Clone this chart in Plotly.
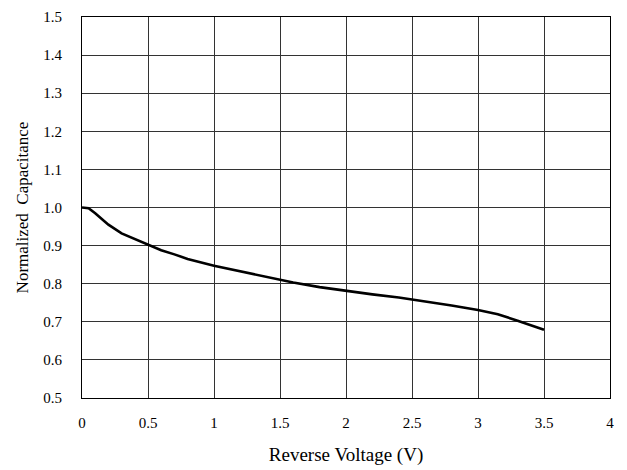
import plotly.graph_objects as go

voltage = [0, 0.05, 0.1, 0.2, 0.3, 0.4, 0.5, 0.6, 0.7, 0.8, 1.0, 1.2, 1.4, 1.6, 1.8, 2.0, 2.2, 2.4, 2.6, 2.8, 3.0, 3.15, 3.3, 3.5]
capacitance = [1.0, 0.998, 0.985, 0.955, 0.932, 0.917, 0.902, 0.888, 0.877, 0.865, 0.847, 0.832, 0.818, 0.803, 0.791, 0.781, 0.772, 0.764, 0.754, 0.743, 0.731, 0.72, 0.703, 0.679]

x_ticks = [0, 0.5, 1, 1.5, 2, 2.5, 3, 3.5, 4]
x_tick_text = ["0", "0.5", "1", "1.5", "2", "2.5", "3", "3.5", "4"]
y_ticks = [0.5, 0.6, 0.7, 0.8, 0.9, 1.0, 1.1, 1.2, 1.3, 1.4, 1.5]
y_tick_text = ["0.5", "0.6", "0.7", "0.8", "0.9", "1.0", "1.1", "1.2", "1.3", "1.4", "1.5"]

fig = go.Figure()
fig.add_trace(go.Scatter(x=voltage, y=capacitance, mode="lines",
                         line=dict(color="black", width=2.6), showlegend=False))

font = "Liberation Serif, Times New Roman, serif"
fig.update_layout(
    width=619, height=462,
    margin=dict(l=74, r=17, t=9, b=72),
    paper_bgcolor="white", plot_bgcolor="white",
    font=dict(family=font, size=15, color="black"),
    xaxis=dict(range=[0, 4], tickvals=x_ticks, ticktext=x_tick_text, automargin=False,
               showgrid=True, gridcolor="#333333", gridwidth=1,
               showline=True, linecolor="black", linewidth=1, mirror=True,
               ticks="outside", ticklen=11, tickcolor="white", zeroline=False,
               title=dict(text="Reverse Voltage (V)", font=dict(size=19, family=font), standoff=17)),
    yaxis=dict(range=[0.5, 1.5], tickvals=y_ticks, ticktext=y_tick_text, automargin=False,
               showgrid=True, gridcolor="#333333", gridwidth=1,
               showline=True, linecolor="black", linewidth=1, mirror=True,
               ticks="outside", ticklen=16, tickcolor="white", zeroline=False,
               title=dict(text="Normalized  Capacitance", font=dict(size=17, family=font), standoff=10)),
)

fig.write_html("out.html")
